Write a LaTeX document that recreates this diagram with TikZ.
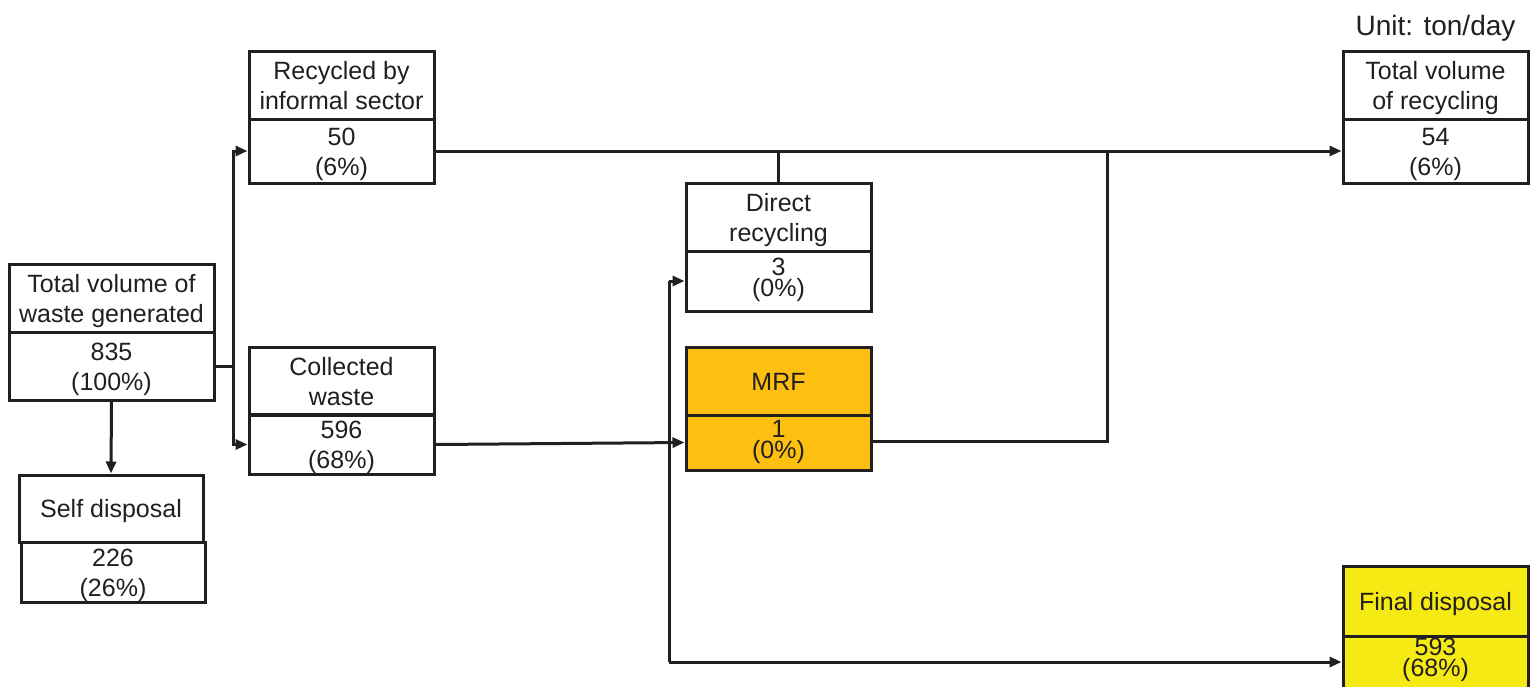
\documentclass[tikz,border=0pt]{standalone}
\usepackage{fontspec}
\setmainfont{Liberation Sans}
\usetikzlibrary{arrows.meta,calc}
\definecolor{ink}{HTML}{231F20}
\definecolor{mrfc}{HTML}{FDBF10}
\definecolor{finc}{HTML}{F6EA14}
\newcommand\twol[2]{\rule{0pt}{24pt}#1\\#2\rule[-6pt]{0pt}{6pt}}
\newcommand\tightl[2]{#1\\#2\rule[-7pt]{0pt}{7pt}}
\begin{document}
\begin{tikzpicture}[x=1pt,y=-1pt,
  box/.style={draw=ink,line width=3pt,inner sep=0pt,minimum width=#1pt,align=center,text=ink,
    font={\fontsize{25}{30}\selectfont}},
  box/.default=185,
  one/.style={text height=18pt,text depth=0pt},
  tight/.style={font={\fontsize{25}{21}\selectfont\lineskiplimit=-50pt}},
  conn/.style={draw=ink,line width=3pt},
  arr/.style={conn,-{Triangle[length=12pt,width=10pt]}}]
\useasboundingbox (0,0) rectangle (1536,686);
\fill[white] (0,0) rectangle (1536,686);
% boxes
\node[box=205,minimum height=68pt] (totT) at (111.5,298) {\twol{Total volume of}{waste generated}};
\node[box=205,minimum height=68pt] (totB) at (111.5,366) {\twol{835}{(100\%)}};
\node[box=184,one,minimum height=67pt] (selfT) at (111,508.5) {Self disposal};
\node[box=184,minimum height=60pt] (selfB) at (113,572) {\twol{226}{(26\%)}};
\node[box,minimum height=68pt] (recT) at (341.5,85) {\twol{Recycled by}{informal sector}};
\node[box,minimum height=64pt] (recB) at (341.5,151) {\twol{50}{(6\%)}};
\node[box,minimum height=68pt] (colT) at (341.5,381) {\twol{Collected}{waste}};
\node[box,minimum height=59pt] (colB) at (341.5,444.5) {\twol{596}{(68\%)}};
\node[box,minimum height=68pt] (dirT) at (778.5,217) {\twol{Direct}{recycling}};
\node[box,tight,minimum height=60pt] (dirB) at (778.5,281) {\tightl{3}{(0\%)}};
\node[box,one,fill=mrfc,minimum height=68pt] (mrfT) at (778.5,381) {MRF};
\node[box,tight,fill=mrfc,minimum height=55pt] (mrfB) at (778.5,442.5) {\tightl{1}{(0\%)}};
\node[box,minimum height=68pt] (tvrT) at (1435.5,85) {\twol{Total volume}{of recycling}};
\node[box,minimum height=64pt] (tvrB) at (1435.5,151) {\twol{54}{(6\%)}};
\node[box,one,fill=finc,minimum height=70pt] (finT) at (1435.5,601) {Final disposal};
\node[box,fill=finc,minimum height=80pt] (finB) at (1435.5,676) {};
\node[text=ink,align=center,inner sep=0pt,tight] (finV) at (1435.5,661) {\tightl{593}{(68\%)}};
\node[text=ink,inner sep=0pt,anchor=base,font={\fontsize{28}{32}\selectfont}] (unit) at (1435.5,35) {Unit: ton/day};
% connectors
\coordinate (j1) at ($(totB.east)+(18,0)$);
\draw[conn] (totB.east) -- (j1);
\draw[arr] (j1) |- (recB.west);
\draw[arr] (j1) |- (colB.west);
\draw[arr] (totB.south) -- (selfT.north);
\draw[arr] (recB.east) -- (tvrB.west);
\draw[conn] (dirT.north) -- (dirT.north |- recB.east);
\coordinate (j2) at (1107,441);
\draw[conn] (mrfB.east |- j2) -- (j2) -- (j2 |- recB.east);
\draw[arr] (colB.east) -- (mrfB.west);
\coordinate (v1) at (669,281);
\coordinate (v2) at (669,662);
\draw[arr] (v1) -- (dirB.west);
\draw[conn] (v1) -- (v2);
\draw[arr] (v2) -- (v2 -| finB.west);
\end{tikzpicture}
\end{document}
